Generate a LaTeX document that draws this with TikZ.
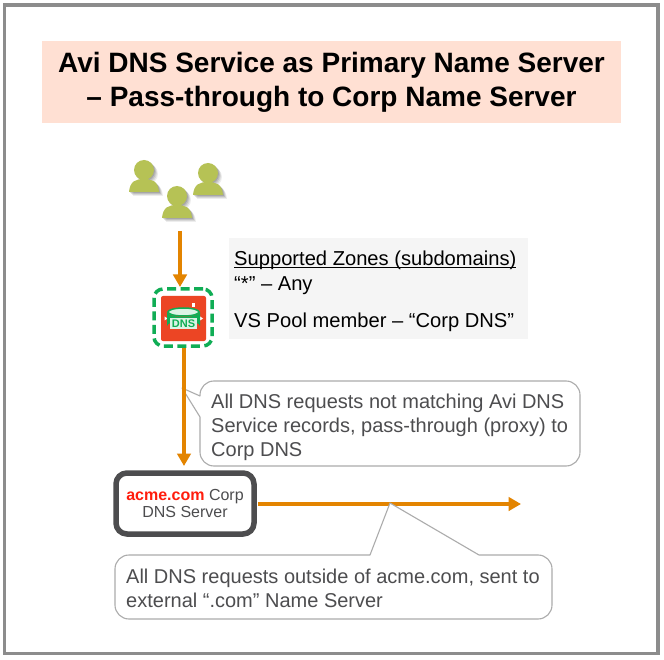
\documentclass[tikz,border=0pt]{standalone}
\usepackage{fontspec}
\setmainfont{Liberation Sans}
\usetikzlibrary{arrows.meta,calc,shapes.geometric}
\definecolor{frameg}{HTML}{8C8C8C}
\definecolor{titlebg}{HTML}{FFE0D3}
\definecolor{flow}{HTML}{E38400}
\definecolor{txt}{HTML}{4D4D4F}
\definecolor{calloutline}{HTML}{ACACAC}
\definecolor{zone}{HTML}{F5F5F5}
\definecolor{dnsgreen}{HTML}{10AD55}
\definecolor{dnsred}{HTML}{EC4524}
\definecolor{olive}{HTML}{B6C255}
\definecolor{acme}{HTML}{FF1D0D}
\newcommand{\fs}[2]{\fontsize{#1}{#2}\selectfont}
\newcommand{\personicon}[2]{%
  \foreach \dx/\op in {4/.07,3/.09,2/.11,1/.13}{
    \fill[black,opacity=\op] ($(#1,#2)+(\dx,\dx)$) circle (10);
    \fill[black,opacity=\op] ($(#1,#2)+(-15+\dx,22+\dx)$) .. controls ($(#1,#2)+(-14+\dx,11+\dx)$) and ($(#1,#2)+(-8+\dx,9+\dx)$) .. ($(#1,#2)+(\dx,9+\dx)$) .. controls ($(#1,#2)+(8+\dx,9+\dx)$) and ($(#1,#2)+(14+\dx,11+\dx)$) .. ($(#1,#2)+(15+\dx,22+\dx)$) -- cycle;
  }
  \fill[olive] (#1,#2) circle (10);
  \fill[olive] ($(#1,#2)+(-15,22)$) .. controls ($(#1,#2)+(-14,11)$) and ($(#1,#2)+(-8,9)$) .. ($(#1,#2)+(0,9)$) .. controls ($(#1,#2)+(8,9)$) and ($(#1,#2)+(14,11)$) .. ($(#1,#2)+(15,22)$) -- cycle;
}
\tikzset{
  flowline/.style={draw=flow,line width=4pt,-{Triangle[length=12.5pt,width=13.5pt]},shorten >=0pt},
  calloutshape/.style={draw=calloutline,line width=1.1pt,fill=white,line join=round},
  callouttext/.style={text=txt,align=left,anchor=north west,inner sep=0pt,font=\fs{20}{24.3}},
}
\begin{document}
\begin{tikzpicture}[x=1pt,y=-1pt]
\useasboundingbox (0,0) rectangle (664,660);
\fill[white] (0,0) rectangle (664,660);
\draw[frameg,line width=3.4pt] (4.5,5) rectangle (658,653.5);
\node[fill=titlebg,minimum width=579pt,minimum height=82pt,inner sep=0pt,align=center,font=\fs{28}{33.5}\bfseries] (title) at (331.5,82.5) {Avi DNS Service as Primary Name Server\\– Pass-through to Corp Name Server};
% users
\personicon{144}{170}
\personicon{208}{173}
\personicon{177}{196}
\coordinate (users) at (180,231);
% zones panel
\node[fill=zone,minimum width=299pt,minimum height=101pt,inner sep=0pt] (zones) at (378.5,288.5) {};
\node[anchor=north west,inner sep=0pt,align=left,font=\fs{20.15}{25},text=black] (zonetext) at (234,250.5) {\vphantom{(}\underline{\smash{Supported Zones (subdomains)}}\\“*” – Any\\[12pt]VS Pool member – “Corp DNS”};
% DNS service icon
\node[draw=dnsgreen,line width=3.5pt,dash pattern=on 9pt off 4.5pt,rounded corners=9pt,minimum width=58pt,minimum height=57pt,inner sep=0pt,outer sep=0pt] (dnsring) at (183,317.5) {};
\node[fill=dnsred,rounded corners=2pt,minimum width=45pt,minimum height=45pt,inner sep=0pt] (dnsicon) at (183.5,318.5) {};
\fill[white] (164.5,316.5) -- (167.5,318.5) -- (164.5,320.5) -- cycle;
\fill[white] (200,316.5) -- (203,318.5) -- (200,320.5) -- cycle;
\fill[white] (192,303) rectangle (195,307);
\fill[dnsgreen] (167,312) -- (167,326) arc[start angle=180,end angle=360,x radius=16.5,y radius=5] -- (200,312) arc[start angle=0,end angle=180,x radius=16.5,y radius=5] -- cycle;
\draw[dnsgreen,fill=white!85!dnsgreen,line width=1.5pt] (183.5,312) ellipse[x radius=15.5,y radius=4];
\fill[white!85!dnsgreen] (170,318) rectangle (197,329);
\node[inner sep=0pt,text=dnsgreen,font=\fs{11}{12}\bfseries] (dnslabel) at (183.5,323.5) {DNS};
% callout 1
\coordinate (tipA) at (182,388);
\draw[calloutshape] (tipA) -- (200,396) -- (200,395) arc[start angle=180,end angle=270,radius=14] -- (566,381) arc[start angle=270,end angle=360,radius=14] -- (580,452) arc[start angle=0,end angle=90,radius=14] -- (214,466) arc[start angle=90,end angle=180,radius=14] -- (200,417) -- cycle;
\node[callouttext] (noteA) at (211,393.5) {All DNS requests not matching Avi DNS\\Service records, pass-through (proxy) to\\Corp DNS};
% corp server
\node[draw=txt,line width=5.5pt,rounded corners=11pt,fill=white,minimum width=138pt,minimum height=61pt,inner sep=0pt,align=center,text=txt,font=\fs{16}{17.5}] (corp) at (185,503.5) {{\color{acme}\bfseries acme.com} Corp\\DNS Server};
\coordinate (ext) at (521,504);
% connectors
\coordinate (dnsout) at (184,348);
\coordinate (corpin) at (184,466);
\draw[flowline] (users) -- (180,287);
\draw[flowline] (dnsout) -- (corpin);
\draw[flowline] (corp.east) ++(1,0.5) coordinate (corpout) -- (ext);
% callout 2
\coordinate (tipB) at (390,503);
\draw[calloutshape] (tipB) -- (479,555) -- (538,555) arc[start angle=270,end angle=360,radius=14] -- (552,605) arc[start angle=0,end angle=90,radius=14] -- (129,619) arc[start angle=90,end angle=180,radius=14] -- (115,569) arc[start angle=180,end angle=270,radius=14] -- (370,555) -- cycle;
\node[callouttext] (noteB) at (126,568.5) {All DNS requests outside of acme.com, sent to\\external “.com” Name Server};
\end{tikzpicture}
\end{document}
